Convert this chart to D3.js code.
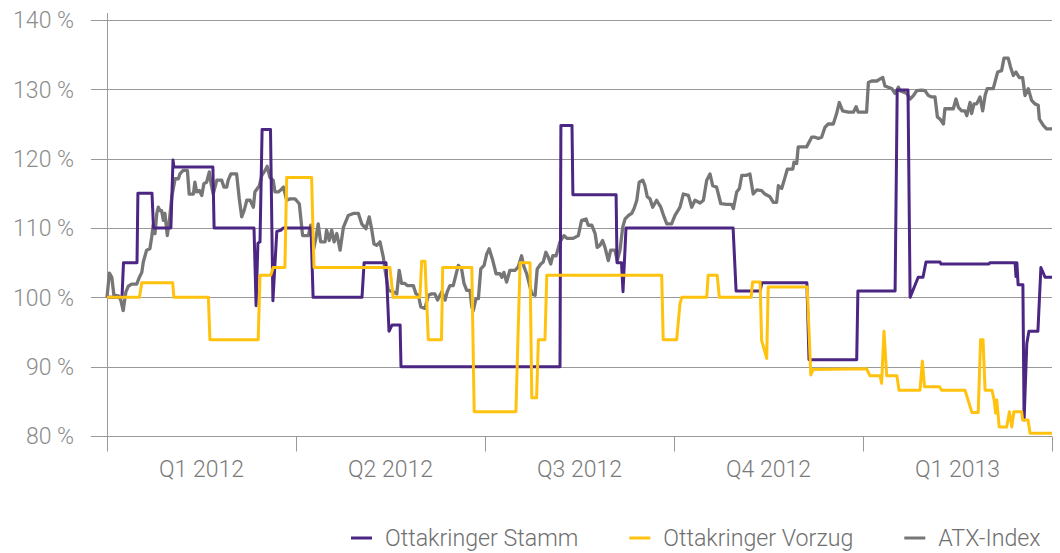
<!DOCTYPE html>
<html>
<head>
<meta charset="utf-8">
<script src="https://cdn.jsdelivr.net/npm/d3@7"></script>
<style>
  body { margin: 0; background: #fff; }
  svg text { font-family: Roboto, "Open Sans", sans-serif; font-weight: 300; }
</style>
</head>
<body>
<svg id="chart"></svg>
<script>
// x = trading day index (63 per quarter), y = performance in %
const quarterBounds = [0, 63, 126, 189, 252, 315];
const quarterLabels = ["Q1 2012", "Q2 2012", "Q3 2012", "Q4 2012", "Q1 2013"];
const yTicks = [80, 90, 100, 110, 120, 130, 140];
const seriesNames = ["Ottakringer Stamm", "Ottakringer Vorzug", "ATX-Index"];

const stamm = [
  [0,100],[5,100],[5.5,105],[10,105],[10.3,115],[15,115],[15.5,110],[21.3,110],[22,119.8],[22.3,118.8],
  [35.3,118.8],[35.7,110],[49,110],[49.7,98.8],[50.3,107.8],[51,108],[51.7,124.2],[54.5,124.2],[55.3,99.5],
  [56.6,109.5],[58,109.7],[58.7,110],[68,110],[68.7,100],[85,100],[85.7,105],[93,105],[94,95.1],[95,96],
  [97.7,96],[98,90],[151,90],[151.3,124.8],[155,124.8],[155.3,114.8],[169.7,114.8],[170,105],[171.5,105],
  [172,100.8],[173,110],[208.7,110],[209.7,100.9],[217.7,100.9],[218.3,102.1],[233.3,102.1],[234,91],
  [249.9,91],[250.3,100.9],[262.7,100.9],[263.4,129.9],[267,129.9],[267.7,100],[270.4,102.9],[272,102.9],
  [273,105.1],[277.7,105.1],[278,104.8],[294,104.8],[294.3,105],[302.7,105],[303,103],[303.3,105],
  [303.7,101.8],[305.3,101.8],[305.7,82.3],[306.6,93.3],[307.3,95.1],[310.3,95.1],[311.3,104.3],
  [312.7,102.9],[315,102.9]
];

const vorzug = [
  [0,100],[10.8,100],[11.6,102.1],[21.9,102.1],[22.3,100],[33.8,100],[34.3,93.9],[50.4,93.9],[51,103.2],
  [54.6,103.2],[55.4,104.3],[59.3,104.3],[59.9,117.3],[68.2,117.3],[69,104.3],[94.3,104.3],[95.4,100],
  [104.3,100],[104.9,105.2],[106,105.2],[107.1,93.9],[111.5,93.9],[111.9,104.3],[121.6,104.3],[122.4,83.5],
  [136.3,83.5],[137.7,105],[141,105],[141.6,85.5],[143.2,85.5],[143.8,93.9],[146,93.9],[146.6,103.2],
  [184.9,103.2],[185.4,93.9],[189.9,93.9],[191,99.1],[191.6,100],[199.9,100],[200.4,103.2],[203.4,103.2],
  [204.1,100],[214.7,100],[215.2,102.2],[217.7,102.2],[218.2,93.8],[219.9,91.2],[220.4,101.5],[233.4,101.5],
  [234.6,88.8],[235.4,89.6],[253.2,89.7],[254.3,88.7],[257.7,88.7],[258.2,87.6],[259,95.1],[259.9,88.7],
  [263.3,88.7],[264,86.6],[271,86.6],[271.8,90.8],[272.5,87.1],[277.5,87.1],[278.2,86.6],[286,86.6],
  [286.8,85.5],[288.3,83.4],[290.4,83.4],[291.2,93.9],[292,93.9],[292.7,86.6],[295,86.6],[295.7,85.2],
  [296.2,83.3],[296.6,85.2],[297.4,81.3],[299.9,81.3],[300.8,83.5],[301.6,81.3],[302.3,83.5],[304.9,83.5],
  [305.2,82.3],[307,82.3],[307.7,80.4],[315,80.4]
];

const atx = [
  [0,100],[0.8,103.5],[1.6,102.9],[2.3,100.3],[3.8,100.2],[4.6,99.6],[5.4,98.1],[6.3,100.8],[7.1,101.6],
  [8.2,101.9],[9.9,101.9],[10.8,102.9],[11.6,103.6],[12.1,105.1],[13.2,106.8],[14.3,107],[14.9,108.7],
  [15.4,110.4],[16,109.2],[16.6,112.1],[17.1,113],[17.7,112.5],[18.2,112.5],[18.8,111.1],[19.3,112.1],
  [20.1,108.9],[20.8,111.1],[21.6,114.5],[22.7,117.1],[23.8,117.1],[24.3,117.8],[25.4,118.3],[26.8,118.3],
  [27.4,114.9],[28.8,114.9],[29.3,116.6],[29.9,115.2],[30.8,115.4],[31.6,114.7],[32.3,116.4],[33.2,116.6],
  [34.1,118.1],[34.7,116.4],[35.4,114.9],[36.6,116.9],[38.2,116.9],[39,115.9],[39.9,115.9],[40.4,116.9],
  [41.3,117.8],[43.2,117.8],[44.1,114.2],[44.9,111.6],[45.7,112.5],[46.6,114],[47.7,114],[48.8,113],
  [49.3,115.2],[50.8,116.1],[51.6,117.6],[52.7,118.3],[53.4,118.9],[54.3,117.3],[55.4,116.9],[56,115.2],
  [57.1,115.2],[57.7,115.4],[58.8,115.9],[59.9,114],[61,114.2],[62.7,114.2],[64.1,113.5],[65.2,108.9],
  [67.1,108.9],[67.9,110.4],[68.8,106.8],[69.7,108.7],[70.4,110.6],[71.2,108],[72.7,108],[73.2,109.7],
  [74.1,108.2],[74.9,109.7],[75.7,108],[76.6,109.2],[77.7,106.8],[78.8,110.1],[80.4,111.8],[82.1,112.1],
  [83.8,112.1],[84.9,110.6],[86.3,109.9],[87.4,111.6],[88.2,109.9],[89,107.7],[89.9,107.5],[91,108],
  [92.1,105.8],[92.7,103.9],[93.8,101],[95.4,100.8],[96.6,100.5],[97.4,103.9],[98.2,102],[99.3,102],
  [100.1,101.7],[102.1,101.7],[103,100.5],[103.8,100.3],[104.6,98.6],[106,98.4],[107.1,100.3],[108.2,100.5],
  [109.3,100.5],[110.2,99.6],[111.6,100.8],[112.7,99.6],[113.4,100.8],[114.3,101.7],[115.4,101.7],[116,102.7],
  [117.1,104.6],[118.2,104.1],[119,102],[119.9,101],[121,101],[121.6,98.6],[122.1,98.1],[123,99.8],
  [123.8,99.8],[124.6,104.1],[125.7,104.6],[126.6,106.3],[127.4,107],[128.6,105.3],[129.7,103.4],[131,103.4],
  [131.6,102.9],[132.3,103.6],[133.2,102.2],[134.3,103.9],[136,103.9],[137.1,104.4],[138.2,106],[139,104.4],
  [139.9,103.4],[141.6,100.5],[142.7,100.3],[143.4,104.1],[144.6,104.8],[145.4,105.1],[146.3,106.5],
  [147.1,105.8],[147.9,104.8],[148.6,106],[149.7,106],[151,108],[152.3,108.9],[153.4,108.5],[155.4,108.5],
  [157.1,108.9],[158.2,111.1],[159.7,111.3],[160.4,110.4],[161.6,110.4],[162.7,109.2],[163.4,107.2],
  [164.3,107.5],[165.2,108.2],[166,107.2],[167.1,105.3],[167.9,106.8],[169.3,106.8],[170.1,105.3],[171,106.8],
  [171.9,110.1],[172.7,111.3],[173.8,111.8],[174.9,112.1],[175.7,112.8],[176.6,114],[177.4,116.6],
  [178.6,116.9],[179.3,116.1],[180.1,114.5],[181,114.2],[181.9,113],[183.2,114],[184.6,113],[185.7,111.6],
  [186.6,110.6],[188.2,110.6],[189.3,111.8],[191,113],[192.1,114.9],[193.8,114.7],[194.9,113],[196,114],
  [197.7,113.6],[198.8,114],[199.9,116.9],[201,117.8],[201.9,116.1],[203.2,115.9],[204.6,113.5],[206.6,113.4],
  [208.2,113.4],[208.8,112.8],[209.9,115.2],[210.8,115.7],[211.6,117.6],[213.2,117.6],[214.3,117.8],
  [215.4,114.9],[216.6,115.5],[218.2,115.4],[219.3,114.9],[221,114.5],[222.1,113.7],[223.2,113.7],
  [223.8,116.1],[224.9,115.7],[226,117.3],[226.8,118.5],[228.6,118.5],[229,119.5],[229.9,119.3],[230.4,121.7],
  [233.2,121.7],[234.9,123.1],[236,123.1],[237.1,122.9],[238.2,123.1],[239.3,124.5],[240.4,125],[242.1,125],
  [243.2,126.5],[244.1,128.1],[245.2,126.9],[247.1,126.7],[248.8,126.7],[249.7,127.5],[250.4,126.7],
  [253.2,126.7],[253.8,131],[254.9,131.2],[256.6,131.2],[257.7,131.5],[258.6,131.7],[259.3,130.5],
  [260.4,130.3],[261.6,130.1],[262.7,129.4],[263.8,130.3],[264.3,129.8],[266.6,129.4],[267.7,128.6],
  [268.8,129.1],[269.9,129.8],[271.6,129.9],[272.7,129.8],[273.8,129.1],[274.9,128.9],[276,128.9],[276.8,126],
  [277.7,125.7],[278.8,125],[279.3,127.2],[282.1,127.2],[283,128.6],[283.8,127.4],[284.9,126.9],[286,126.9],
  [286.6,126.2],[287.7,128.1],[288.2,126.5],[289,127.9],[289.9,127.9],[291,128.9],[291.9,126.9],[292.7,129.1],
  [293.4,130.1],[295.4,130.1],[296.9,132.5],[298.2,132.7],[299,134.5],[300.4,134.5],[301.2,133.2],[302.1,132],
  [303,132.5],[304.1,131.7],[305.2,131.7],[306,129.1],[307.1,130.1],[308.2,128.4],[309.3,127.9],[310.4,127.7],
  [310.8,125.7],[312.1,124.8],[313.2,124.3],[315,124.3]
];

const colors = ["#4b2683", "#ffc20e", "#767676"];

const width = 1060;
const height = 553;

const svg = d3.select("#chart")
  .attr("width", width)
  .attr("height", height);

const x = d3.scaleLinear().domain([0, 315]).range([107, 1052]);
const y = d3.scaleLinear().domain([80, 140]).range([436, 20]);

// grid
svg.append("g")
  .selectAll("line")
  .data(yTicks)
  .join("line")
  .attr("x1", 91)
  .attr("x2", 1052)
  .attr("y1", d => Math.round(y(d)) + 0.5)
  .attr("y2", d => Math.round(y(d)) + 0.5)
  .attr("stroke", "#999")
  .attr("stroke-width", 1);

svg.append("g")
  .selectAll("text")
  .data(yTicks)
  .join("text")
  .attr("x", 74)
  .attr("y", d => y(d))
  .attr("dy", "0.36em")
  .attr("text-anchor", "end")
  .attr("font-size", 23)
  .attr("fill", "#8c8c8c")
  .text(d => d + " %");

// y axis line
svg.append("line")
  .attr("x1", x(0) + 0.5).attr("x2", x(0) + 0.5)
  .attr("y1", 13).attr("y2", 451)
  .attr("stroke", "#999");

// quarter ticks
const xAxis = d3.axisBottom(x)
  .tickValues(quarterBounds)
  .tickSize(15)
  .tickFormat("");

svg.append("g")
  .attr("transform", `translate(0,${Math.round(y(80)) + 0.5})`)
  .call(xAxis)
  .call(g => g.select(".domain").remove())
  .call(g => g.selectAll(".tick line").attr("stroke", "#999"));

svg.append("g")
  .selectAll("text")
  .data(quarterLabels)
  .join("text")
  .attr("x", (d, i) => x((quarterBounds[i] + quarterBounds[i + 1]) / 2))
  .attr("y", 477)
  .attr("text-anchor", "middle")
  .attr("font-size", 23)
  .attr("fill", "#7a7a7a")
  .text(d => d);

// series
const line = d3.line()
  .x(d => x(d[0]))
  .y(d => y(d[1]));

const series = [atx, stamm, vorzug];
const seriesColors = [colors[2], colors[0], colors[1]];
const seriesWidths = [3.3, 3, 3];

svg.append("g")
  .selectAll("path")
  .data(series)
  .join("path")
  .attr("d", line)
  .attr("fill", "none")
  .attr("stroke", (d, i) => seriesColors[i])
  .attr("stroke-width", (d, i) => seriesWidths[i])
  .attr("stroke-linejoin", "round");

// legend
const legend = svg.append("g");
let lx = 351;
seriesNames.forEach((name, i) => {
  legend.append("line")
    .attr("x1", lx).attr("x2", lx + 21)
    .attr("y1", 538).attr("y2", 538)
    .attr("stroke", colors[i])
    .attr("stroke-width", 3);
  const t = legend.append("text")
    .attr("x", lx + 34)
    .attr("y", 538)
    .attr("dy", "0.36em")
    .attr("font-size", 23.2)
    .attr("fill", "#6f6f6f")
    .text(name);
  lx += 34 + t.node().getComputedTextLength() + 51;
});
</script>
</body>
</html>
